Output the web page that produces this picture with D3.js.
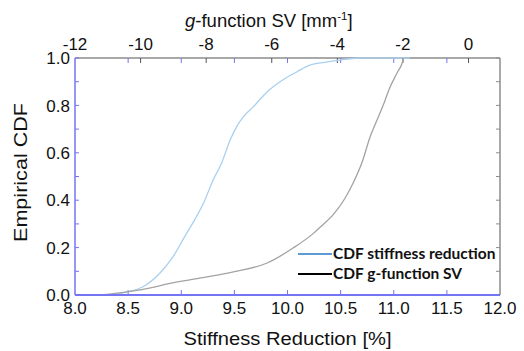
<!DOCTYPE html>
<html>
<head>
<meta charset="utf-8">
<script src="https://cdn.jsdelivr.net/npm/d3@7"></script>
<style>
  body { margin: 0; background: #fff; }
  svg text { font-family: "Liberation Sans", Arial, sans-serif; fill: #111; }
</style>
</head>
<body>
<div id="chart"></div>
<script>
// Empirical CDF of stiffness reduction [%] (bottom axis)
const stiffX = [8.28, 8.4, 8.5, 8.64, 8.8, 8.92, 9.05, 9.13, 9.21, 9.3, 9.38, 9.46, 9.53, 9.6, 9.68, 9.81, 9.93, 10.09, 10.21, 10.35, 10.47, 10.68, 11.15];
const stiffP = [0, 0.004, 0.014, 0.035, 0.093, 0.16, 0.26, 0.32, 0.388, 0.485, 0.557, 0.654, 0.717, 0.76, 0.795, 0.858, 0.9, 0.942, 0.97, 0.982, 0.99, 1.0, 1.0];
// Empirical CDF of g-function SV [mm^-1] (top axis)
const gX = [-11.22, -10.36, -9.7, -9.18, -8.17, -7.17, -6.14, -5.35, -4.73, -4.51, -4.12, -3.78, -3.51, -3.24, -3.0, -2.79, -2.54, -2.43, -2.18, -2.02, -1.98];
const gP = [0, 0.014, 0.03, 0.047, 0.072, 0.098, 0.135, 0.198, 0.26, 0.288, 0.34, 0.405, 0.475, 0.562, 0.668, 0.738, 0.823, 0.865, 0.937, 0.98, 1.0];

const bottomTicks = [8.0, 8.5, 9.0, 9.5, 10.0, 10.5, 11.0, 11.5, 12.0];
const topTicks = [-12, -10, -8, -6, -4, -2, 0];
const yTicks = [0, 0.2, 0.4, 0.6, 0.8, 1.0];
const legendLabels = ["CDF stiffness reduction", "CDF g-function SV"];

const W = 524, H = 351;
const margin = { top: 58, right: 24, bottom: 56, left: 75 };
const innerW = W - margin.left - margin.right;
const innerH = H - margin.top - margin.bottom;

const svg = d3.select('#chart').append('svg')
  .attr('width', W).attr('height', H);
const g = svg.append('g')
  .attr('transform', `translate(${margin.left},${margin.top})`);

const x = d3.scaleLinear().domain([8, 12]).range([0, innerW]);
const xTop = d3.scaleLinear().domain([-12, 0.96]).range([0, innerW]);
const y = d3.scaleLinear().domain([0, 1]).range([innerH, 0]);

const blueAxis = '#7474f4';
const grayAxis = '#8c8c8c';

// top and right frame
g.append('line').attr('x1', 0).attr('x2', innerW).attr('y1', 0).attr('y2', 0)
  .attr('stroke', grayAxis).attr('stroke-width', 1.5);
g.append('line').attr('x1', innerW).attr('x2', innerW).attr('y1', 0).attr('y2', innerH)
  .attr('stroke', grayAxis).attr('stroke-width', 1.5);

// inward ticks
const minorY = d3.range(0, 11).map(i => i / 10);
g.selectAll('.ytl').data(minorY).enter().append('line')
  .attr('x1', 0).attr('x2', 4).attr('y1', d => y(d)).attr('y2', d => y(d))
  .attr('stroke', blueAxis);
g.selectAll('.ytr').data(minorY).enter().append('line')
  .attr('x1', innerW).attr('x2', innerW - 4).attr('y1', d => y(d)).attr('y2', d => y(d))
  .attr('stroke', grayAxis);
const innerBottom = bottomTicks.slice(1, -1);
g.selectAll('.xtb').data(innerBottom).enter().append('line')
  .attr('x1', d => x(d)).attr('x2', d => x(d)).attr('y1', innerH).attr('y2', innerH - 5)
  .attr('stroke', blueAxis);
g.selectAll('.xtt').data(innerBottom).enter().append('line')
  .attr('x1', d => x(d)).attr('x2', d => x(d)).attr('y1', 0).attr('y2', 5)
  .attr('stroke', blueAxis);
g.selectAll('.gtt').data(topTicks.slice(1)).enter().append('line')
  .attr('x1', d => xTop(d)).attr('x2', d => xTop(d)).attr('y1', 0).attr('y2', 5)
  .attr('stroke', '#555');

// curves
const line = (sx) => d3.line().curve(d3.curveMonotoneX).x(d => sx(d[0])).y(d => y(d[1]));
g.append('path').datum(stiffX.map((v, i) => [v, stiffP[i]]))
  .attr('d', line(x)).attr('fill', 'none')
  .attr('stroke', '#a9d0ee').attr('stroke-width', 1.3);
g.append('path').datum(gX.map((v, i) => [v, gP[i]]))
  .attr('d', line(xTop)).attr('fill', 'none')
  .attr('stroke', '#a3a3a3').attr('stroke-width', 1.3);

// left and bottom axis lines
g.append('line').attr('x1', 0).attr('x2', 0).attr('y1', 0).attr('y2', innerH)
  .attr('stroke', blueAxis).attr('stroke-width', 1.5);
g.append('line').attr('x1', 0).attr('x2', innerW).attr('y1', innerH).attr('y2', innerH)
  .attr('stroke', blueAxis).attr('stroke-width', 2);

// tick labels
g.selectAll('.bl').data(bottomTicks).enter().append('text')
  .attr('x', d => x(d)).attr('y', innerH + 19)
  .attr('text-anchor', 'middle').attr('font-size', 17)
  .text(d => d.toFixed(1));
g.selectAll('.tl').data(topTicks).enter().append('text')
  .attr('x', d => xTop(d)).attr('y', -8)
  .attr('text-anchor', 'middle').attr('font-size', 17)
  .text(d => d);
g.selectAll('.yl').data(yTicks).enter().append('text')
  .attr('x', -5).attr('y', d => y(d)).attr('dy', '0.36em')
  .attr('text-anchor', 'end').attr('font-size', 17)
  .text(d => d.toFixed(1));

// axis titles (reference glyphs are a bit wider than Liberation Sans)
g.append('text').attr('x', innerW / 2).attr('y', innerH + 50)
  .attr('text-anchor', 'middle').attr('font-size', 17.5)
  .attr('textLength', 208).attr('lengthAdjust', 'spacingAndGlyphs')
  .text('Stiffness Reduction [%]');
const tt = svg.append('text').attr('x', 185).attr('y', 27)
  .attr('font-size', 18.5);
tt.append('tspan').attr('font-style', 'italic').text('g');
tt.append('tspan').text('-function SV [mm');
tt.append('tspan').attr('font-size', 11.5).attr('dy', -7).text('-1');
tt.append('tspan').attr('dy', 7).text(']');
svg.append('text')
  .attr('transform', `translate(27,${margin.top + innerH / 2 - 4}) rotate(-90)`)
  .attr('text-anchor', 'middle').attr('font-size', 17.5)
  .attr('textLength', 139).attr('lengthAdjust', 'spacingAndGlyphs')
  .text('Empirical CDF');

// legend
const legend = svg.append('g').attr('transform', 'translate(298,254)');
const legColors = ['#5b9bd5', '#000'];
legendLabels.forEach((lab, i) => {
  const row = legend.append('g').attr('transform', `translate(0,${i * 20})`);
  row.append('line').attr('x1', 0).attr('x2', 34).attr('stroke', legColors[i]).attr('stroke-width', 2);
  row.append('text').attr('x', 35).attr('dy', '0.35em')
    .style('font-family', 'Lato, "Open Sans", sans-serif')
    .attr('font-weight', 'bold').attr('font-size', 15.5).text(lab);
});
</script>
</body>
</html>
